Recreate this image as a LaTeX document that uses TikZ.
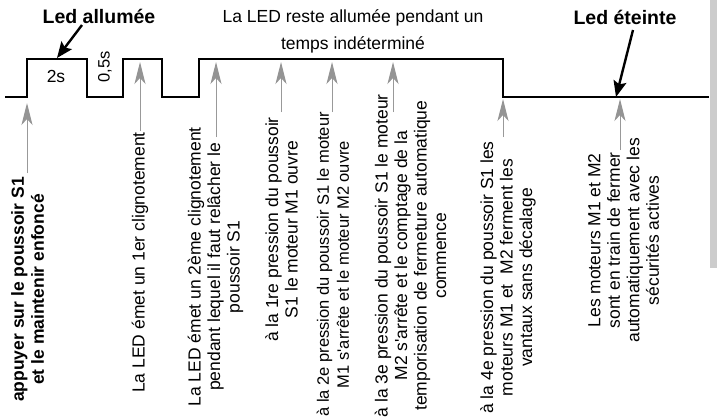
\documentclass[tikz,border=0pt]{standalone}
\usepackage{fontspec}
\setmainfont{Liberation Sans}
\usetikzlibrary{arrows.meta}
\tikzset{
  sig/.style={line width=2pt, line join=miter},
  grayarrow/.style={draw=black!40, line width=1pt, -{Stealth[length=22pt,width=11pt,inset=6pt,color=black!42]}},
  blackarrow/.style={draw=black, line width=2.4pt, -{Stealth[length=16pt,width=13pt,inset=3pt]}},
  lbl/.style={font=\fontsize{17.5}{19.5}\selectfont, inner sep=0pt},
  blbl/.style={font=\bfseries\fontsize{19.5}{22}\selectfont, inner sep=0pt},
  vlbl/.style={lbl, rotate=90, anchor=east, align=center},
  vblbl/.style={font=\bfseries\fontsize{17.5}{20}\selectfont, inner sep=0pt, rotate=90, anchor=east, align=center}
}
\begin{document}
\begin{tikzpicture}[x=1pt,y=-1pt]
\useasboundingbox (0,0) rectangle (717,418);
\fill[black!20] (710,0) rectangle (717,268);

% signal
\draw[sig] (5,97) -- (27,97) -- (27,59) -- (87,59) -- (87,97) -- (123,97) -- (123,59)
  -- (162,59) -- (162,97) -- (199,97) -- (199,59) -- (503,59) -- (503,97) -- (709,97);

% top labels
\node[blbl, anchor=base] (ledon) at (99,23) {Led allumée};
\node[blbl, anchor=base] (ledoff) at (625,24) {Led éteinte};
\node[lbl, anchor=base] (top1) at (353,22) {La LED reste allumée pendant un};
\node[lbl, anchor=base] (top2) at (353,49) {temps indéterminé};
\node[lbl, anchor=base] (t2s) at (56,82) {2s};
\node[lbl, rotate=90, font=\fontsize{16.5}{19}\selectfont] (t05) at (105,67) {0,5s};

% black arrows
\coordinate (ledonS) at (82,25);
\coordinate (ledonT) at (57,58);
\coordinate (ledoffS) at (633,30);
\coordinate (ledoffT) at (616,97);
\draw[blackarrow] (ledonS) -- (ledonT);
\draw[blackarrow] (ledoffS) -- (ledoffT);

% gray arrows
\coordinate (a1t) at (27,103);  \coordinate (a1b) at (27,173);
\coordinate (a2t) at (140,62);  \coordinate (a2b) at (140,131);
\coordinate (a3t) at (216,62);  \coordinate (a3b) at (216,137);
\coordinate (a4t) at (281,62);  \coordinate (a4b) at (281,112);
\coordinate (a5t) at (332,62);  \coordinate (a5b) at (332,112);
\coordinate (a6t) at (393,62);  \coordinate (a6b) at (393,112);
\coordinate (a7t) at (503,99);  \coordinate (a7b) at (503,137);
\coordinate (a8t) at (620,99);  \coordinate (a8b) at (620,150);
\foreach \i in {1,...,8} { \draw[grayarrow] (a\i b) -- (a\i t); }

% rotated texts
\node[vblbl] (b1) at (27.5,177) {appuyer sur le poussoir S1\\et le maintenir enfoncé};
\node[vlbl] (b2) at (140,132) {La LED émet un 1er clignotement};
\node[vlbl] (b3) at (215.5,127) {La LED émet un 2ème clignotement\\pendant lequel il faut relâcher le\\poussoir S1};
\node[vlbl] (b4) at (281.5,117) {à la 1re pression du poussoir\\S1 le moteur M1 ouvre};
\node[vlbl, font=\fontsize{16.5}{20}\selectfont] (b5) at (333,112) {à la 2e pression du poussoir S1 le moteur\\M1 s\textquotesingle arrête et le moteur M2 ouvre};
\node[vlbl] (b6) at (410.5,94) {à la 3e pression du poussoir S1 le moteur\\M2 s\textquotesingle arrête et le comptage de la\\temporisation de fermeture automatique\\commence};
\node[vlbl] (b7) at (508,141) {à la 4e pression du poussoir S1 les\\moteurs M1 et~ M2 ferment les\\vantaux sans décalage};
\node[vlbl] (b8) at (623.5,138) {Les moteurs M1 et M2\\sont en train de fermer\\automatiquement avec les\\sécurités actives};
\end{tikzpicture}
\end{document}
